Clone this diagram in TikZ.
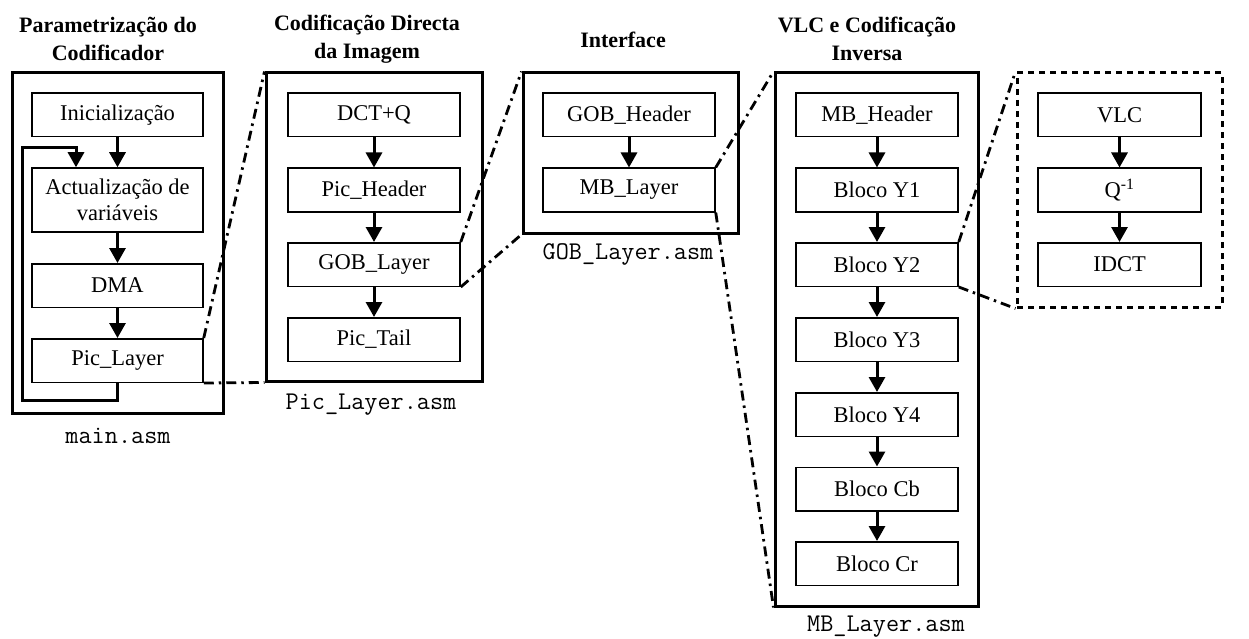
\documentclass[tikz,border=0pt]{standalone}
\usepackage{fontspec}
\setmainfont{Liberation Serif}
\usetikzlibrary{arrows.meta}

\begin{document}
\begin{tikzpicture}[x=1pt,y=-1pt,
  stepbox/.style={draw,line width=1.5pt,inner sep=0pt,align=center,
    font=\fontsize{22.5}{26}\selectfont},
  colA/.style={stepbox,minimum width=171pt,minimum height=43.5pt},
  colB/.style={stepbox,minimum width=172pt,minimum height=43.5pt},
  colC/.style={stepbox,minimum width=162pt,minimum height=43.5pt},
  colD/.style={stepbox,minimum width=163pt,minimum height=43.5pt},
  frame/.style={draw,line width=3pt,inner sep=0pt},
  dframe/.style={draw,line width=3pt,inner sep=0pt,dash pattern=on 6pt off 5pt},
  flow/.style={line width=3pt,-{Triangle[length=15pt,width=16pt]}},
  zoomline/.style={line width=2.8pt,dash pattern=on 10pt off 5pt on 2.5pt off 5pt},
  heading/.style={align=center,font=\bfseries\fontsize{22}{28}\selectfont},
  fname/.style={font=\ttfamily\fontsize{25.5}{28}\selectfont}]

\useasboundingbox (0,0) rectangle (1249,639);

% ---------- main.asm ----------
\node[heading] (t1) at (108,39) {Parametrização do\\Codificador};
\node[frame,minimum width=211pt,minimum height=340pt] (m) at (117.5,243) {};
\node[colA] (ini) at (117.5,115) {Inicialização};
\node[colA,minimum height=64pt] (act) at (117.5,200) {Actualização de\\variáveis};
\node[colA] (dma) at (117.5,285.5) {DMA};
\node[colA] (pl) at (117.5,360.5) {Pic\_Layer};
\node[fname] (f1) at (118,436) {main.asm};

\draw[flow] (ini) -- (act);
\draw[flow] (act) -- (dma);
\draw[flow] (dma) -- (pl);
\coordinate (loopL) at (22,400);
\coordinate (loopT) at (76,148);
\draw[flow] (pl.south) |- (loopL) |- (loopT) -- (loopT |- act.north);

% ---------- Pic_Layer.asm ----------
\node[heading] (t2) at (367,39) {Codificação Directa\\da Imagem};
\node[frame,minimum width=216pt,minimum height=308pt] (c2) at (374,227) {};
\node[colB] (dct) at (374,115) {DCT+Q};
\node[colB] (ph) at (374,190) {Pic\_Header};
\node[colB] (gl) at (374,264.5) {GOB\_Layer};
\node[colB] (pt) at (374,339.5) {Pic\_Tail};
\node[fname] (f2) at (371,405) {Pic\_Layer.asm};

\draw[flow] (dct) -- (ph);
\draw[flow] (ph) -- (gl);
\draw[flow] (gl) -- (pt);

% ---------- GOB_Layer.asm ----------
\node[heading] (t3) at (623,40) {Interface};
\node[frame,minimum width=215pt,minimum height=160pt] (c3) at (630.5,153) {};
\node[colB] (gh) at (629,115) {GOB\_Header};
\node[colB] (mb) at (629,190) {MB\_Layer};
\node[fname] (f3) at (628,254) {GOB\_Layer.asm};

\draw[flow] (gh) -- (mb);

% ---------- MB_Layer.asm ----------
\node[heading] (t4) at (867,39) {VLC e Codificação\\Inversa};
\node[frame,minimum width=203pt,minimum height=533pt] (c4) at (876.5,339.5) {};
\node[colC] (mbh) at (877,115) {MB\_Header};
\node[colC] (y1) at (877,190) {Bloco Y1};
\node[colC] (y2) at (877,264.5) {Bloco Y2};
\node[colC] (y3) at (877,339.5) {Bloco Y3};
\node[colC] (y4) at (877,414.5) {Bloco Y4};
\node[colC] (cb) at (877,489) {Bloco Cb};
\node[colC] (cr) at (877,563.5) {Bloco Cr};
\node[fname] (f4) at (886,627) {MB\_Layer.asm};

\draw[flow] (mbh) -- (y1);
\draw[flow] (y1) -- (y2);
\draw[flow] (y2) -- (y3);
\draw[flow] (y3) -- (y4);
\draw[flow] (y4) -- (cb);
\draw[flow] (cb) -- (cr);

% ---------- block detail ----------
\node[dframe,minimum width=205pt,minimum height=234pt] (c5) at (1119.5,190) {};
\node[colD] (vlc) at (1119.5,115) {VLC};
\node[colD] (iq) at (1119.5,190) {Q\textsuperscript{-1}};
\node[colD] (idct) at (1119.5,264.5) {IDCT};

\draw[flow] (vlc) -- (iq);
\draw[flow] (iq) -- (idct);

% ---------- expansion lines ----------
\draw[zoomline] (pl.north east) -- (c2.north west);
\draw[zoomline] (pl.south east) -- (c2.south west);
\draw[zoomline] (gl.north east) -- (c3.north west);
\draw[zoomline] (gl.south east) -- (c3.south west);
\draw[zoomline] (mb.north east) -- (c4.north west);
\draw[zoomline] (mb.south east) -- (c4.south west);
\draw[zoomline] (y2.north east) -- (c5.north west);
\draw[zoomline] (y2.south east) -- (c5.south west);

\end{tikzpicture}
\end{document}
